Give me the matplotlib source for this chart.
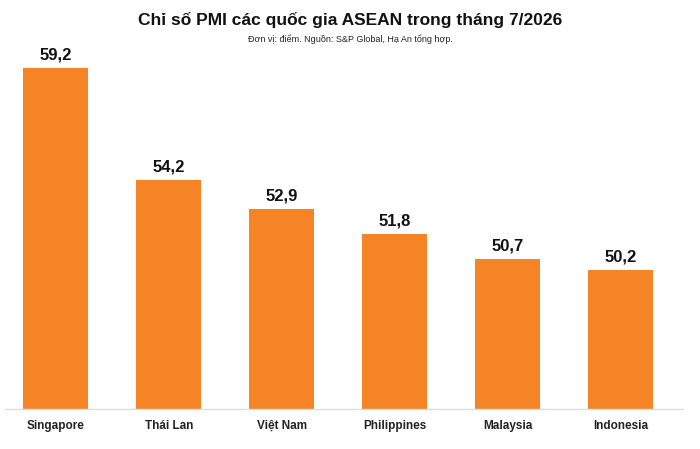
import matplotlib.pyplot as plt

plt.rcParams['font.family'] = ['Liberation Sans', 'DejaVu Sans']

countries = ["Singapore", "Thái Lan", "Việt Nam", "Philippines", "Malaysia", "Indonesia"]
pmi = [59.2, 54.2, 52.9, 51.8, 50.7, 50.2]

fig = plt.figure(figsize=(7, 4.49), dpi=100)
ax = fig.add_axes([5/700, 40/449, 678/700, 359/449])

x = range(len(countries))
ax.bar(x, pmi, width=0.575, color="#F58426", zorder=2)

for i, v in enumerate(pmi):
    ax.text(i, v + 0.25, f"{v:.1f}".replace(".", ","), ha="center", va="bottom",
            fontsize=12, fontweight="bold", color="#111111")

ax.set_ylim(44, 60)
ax.set_xlim(-0.45, 5.55)
ax.set_xticks(list(x))
ax.set_xticklabels(countries, fontsize=8.5, fontweight="bold", color="#222222")
ax.tick_params(axis="x", length=0, pad=8)
ax.set_yticks([])
for s in ["top", "right", "left"]:
    ax.spines[s].set_visible(False)
ax.spines["bottom"].set_color("#dddddd")
ax.spines["bottom"].set_linewidth(1)

fig.text(0.5, 1 - 20/449, "Chỉ số PMI các quốc gia ASEAN trong tháng 7/2026",
         ha="center", va="center", fontsize=12.5, fontweight="bold", color="#111111")
fig.text(0.5, 1 - 39/449, "Đơn vị: điểm. Nguồn: S&P Global, Hạ An tổng hợp.",
         ha="center", va="center", fontsize=6.5, color="#222222")

fig.savefig("out.png", dpi=100)
